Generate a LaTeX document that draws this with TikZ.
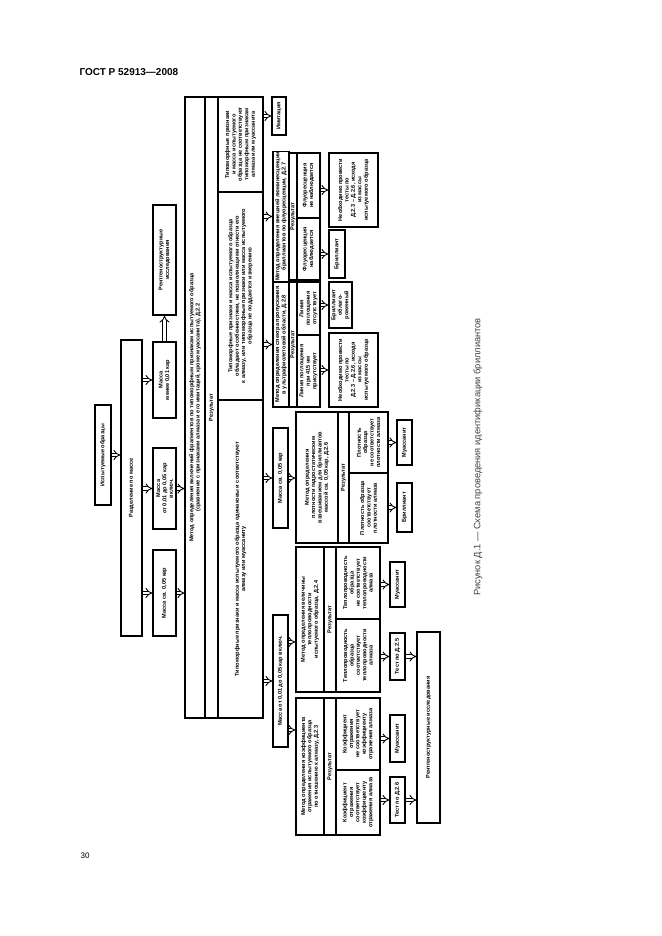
\documentclass[tikz,border=0pt]{standalone}
\usepackage{fontspec}
\setmainfont{Liberation Sans}
\usetikzlibrary{arrows.meta}
\newcommand\boxfont{\bfseries\fontsize{5.6}{6.4}\selectfont}
\tikzset{
  box/.style={draw, line width=1.5pt, rotate=90, inner sep=0.5pt, align=center, font=\boxfont},
  dbl/.style={double, double distance=2.6pt, line width=0.9pt, -{Implies[scale=1.4]}}
}
\begin{document}
\begin{tikzpicture}[x=1pt, y=-1pt]
  \useasboundingbox[fill=white] (0,0) rectangle (661,936);
  \node[anchor=west, font=\bfseries\fontsize{10}{12}\selectfont] (head) at (76,72) {ГОСТ Р 52913—2008};
  \node[font=\fontsize{8}{10}\selectfont] (pnum) at (85,856) {30};
  \node[rotate=90, font=\fontsize{9.3}{11}\selectfont, text=black!75] (cap) at (478,457)
    {Рисунок Д.1 — Схема проведения идентификации бриллиантов};

  \node[box, minimum width=100pt, minimum height=16pt] (samp) at (103,455) {Испытуемые образцы};
  \node[box, minimum width=296pt, minimum height=21pt] (sep) at (131.5,488) {Разделение по массе};
  \node[box, minimum width=76pt, minimum height=23pt] (mlt) at (164.5,380) {Масса\\менее 0,01 кар};
  \node[box, minimum width=81pt, minimum height=23pt] (mmid) at (164.5,488.5) {Масса\\от 0,01 до 0,05 кар\\включ.};
  \node[box, minimum width=86pt, minimum height=23pt] (mbig) at (164.5,593) {Масса св. 0,05 кар};
  \node[box, minimum width=110pt, minimum height=23pt] (xray1) at (164.5,260) {Рентгеноструктурные\\исследования};

  \node[box, minimum width=621pt, minimum height=20pt] (b1) at (195,407.5)
    {Метод определения включений фрагментов по типоморфным признакам испытуемого образца\\
     (сравнение с признаками алмаза и его имитаций, кроме муассанита), Д.2.2};
  \node[box, minimum width=621pt, minimum height=13pt] (b2) at (211.5,407.5) {Результат};
  \node[box, minimum width=95pt, minimum height=45pt] (c1) at (240.5,144.5)
    {Типоморфные признаки\\и масса испытуемого\\образца не соответствуют\\типоморфным признакам\\алмаза или муассанита};
  \node[box, minimum width=208pt, minimum height=45pt] (c2) at (240.5,296)
    {Типоморфные признаки и масса испытуемого образца\\обладают особенностями, не позволяющими отнести его\\к алмазу, или типоморфные признаки или масса испытуемого\\образца не поддаются измерению};
  \node[box, minimum width=318pt, minimum height=45pt] (c3) at (240.5,559)
    {Типоморфные признаки и масса испытуемого образца одинаковы и соответствуют\\алмазу или муассаниту};

  \node[box, minimum width=38pt, minimum height=14pt] (imit) at (279,116) {Имитация};

  \node[box, minimum width=127pt, minimum height=16pt] (d7a) at (281,216.5)
    {Метод определения внешней люминесценции\\бриллиантов по флуоресценции, Д.2.7};
  \node[box, minimum width=127pt, minimum height=8pt] (d7b) at (293,216.5) {Результат};
  \node[box, minimum width=65pt, minimum height=23pt] (d7c) at (308.5,185.5) {Флуоресценция\\не наблюдается};
  \node[box, minimum width=62pt, minimum height=23pt] (d7d) at (308.5,249) {Флуоресценция\\наблюдается};
  \node[box, minimum width=74pt, minimum height=49pt] (tst1) at (353.5,190)
    {Необходимо провести\\тесты по\\Д.2.3 -- Д.2.6, исходя\\из массы\\испытуемого образца};
  \node[box, minimum width=48pt, minimum height=16pt] (brl1) at (337,254) {Бриллиант};

  \node[box, minimum width=125pt, minimum height=16pt] (d8a) at (281,344.5)
    {Метод определения спектра пропускания\\в ультрафиолетовой области, Д.2.8};
  \node[box, minimum width=125pt, minimum height=8pt] (d8b) at (293,344.5) {Результат};
  \node[box, minimum width=53pt, minimum height=23pt] (d8c) at (308.5,308.5) {Линия\\поглощения\\отсутствует};
  \node[box, minimum width=72pt, minimum height=23pt] (d8d) at (308.5,371) {Линия поглощения\\при 415 нм\\присутствует};
  \node[box, minimum width=46pt, minimum height=23pt] (treat) at (340.5,305) {Бриллиант\\облаго-\\роженный};
  \node[box, minimum width=74pt, minimum height=49pt] (tst2) at (353.5,370)
    {Необходимо провести\\тесты по\\Д.2.3 -- Д.2.6, исходя\\из массы\\испытуемого образца};

  \node[box, minimum width=100pt, minimum height=15pt] (mbig2) at (280.5,478) {Масса св. 0,05 кар};
  \node[box, minimum width=131pt, minimum height=42pt] (ca) at (317,477.5)
    {Метод определения\\плотности гидростатическим\\взвешиванием для бриллиантов\\массой св. 0,05 кар, Д.2.6};
  \node[box, minimum width=131pt, minimum height=11pt] (cb) at (343.5,477.5) {Результат};
  \node[box, minimum width=61pt, minimum height=39pt] (cc) at (368.5,442.5) {Плотность\\образца\\не соответствует\\плотности алмаза};
  \node[box, minimum width=70pt, minimum height=39pt] (cd) at (368.5,508) {Плотность образца\\соответствует\\плотности алмаза};
  \node[box, minimum width=45pt, minimum height=15pt] (mua1) at (404.5,442.5) {Муассанит};
  \node[box, minimum width=49pt, minimum height=15pt] (brl2) at (404.5,507.5) {Бриллиант};

  \node[box, minimum width=132pt, minimum height=15pt] (mmid2) at (280.5,681) {Масса от 0,01 до 0,05 кар включ.};
  \node[box, minimum width=145pt, minimum height=28pt] (aa) at (310,619.5)
    {Метод определения величины\\теплопроводности\\испытуемого образца, Д.2.4};
  \node[box, minimum width=145pt, minimum height=12pt] (ab) at (330,619.5) {Результат};
  \node[box, minimum width=72pt, minimum height=44pt] (ac) at (358,583)
    {Теплопроводность\\образца\\не соответствует\\теплопроводности\\алмаза};
  \node[box, minimum width=73pt, minimum height=44pt] (ad) at (358,655.5)
    {Теплопроводность\\образца\\соответствует\\теплопроводности\\алмаза};
  \node[box, minimum width=45pt, minimum height=15pt] (mua2) at (397.5,584.5) {Муассанит};
  \node[box, minimum width=47pt, minimum height=15pt] (t25) at (397.5,656.5) {Тест по Д.2.5};

  \node[box, minimum width=137pt, minimum height=28pt] (ba) at (310,766.5)
    {Метод определения коэффициента\\отражения испытуемого образца\\по отношению к алмазу, Д.2.3};
  \node[box, minimum width=137pt, minimum height=12pt] (bb) at (330,766.5) {Результат};
  \node[box, minimum width=72pt, minimum height=44pt] (bc) at (358,734)
    {Коэффициент\\отражения\\не соответствует\\коэффициенту\\отражения алмаза};
  \node[box, minimum width=65pt, minimum height=44pt] (bd) at (358,802.5)
    {Коэффициент\\отражения\\соответствует\\коэффициенту\\отражения алмаза};
  \node[box, minimum width=47pt, minimum height=15pt] (mua3) at (397.5,738.5) {Муассанит};
  \node[box, minimum width=46pt, minimum height=15pt] (t26) at (397.5,800) {Тест по Д.2.6};
  \node[box, minimum width=191pt, minimum height=23pt] (xray2) at (428.5,727.5) {Рентгеноструктурные исследования};

  \draw[dbl] (samp.south) -- (samp.south -| sep.north);
  \draw[dbl] (sep.south |- mlt) -- (mlt.north);
  \draw[dbl] (sep.south |- mmid) -- (mmid.north);
  \draw[dbl] (sep.south |- mbig) -- (mbig.north);
  \draw[dbl] (mlt.east) -- (xray1.west);
  \draw[dbl] (mmid.south) -- (mmid.south -| b1.north);
  \draw[dbl] (mbig.south) -- (mbig.south -| b1.north);

  \draw[dbl] (c1.south |- imit) -- (imit.north);
  \draw[dbl] (c2.south |- d7a) -- (d7a.north);
  \draw[dbl] (c2.south |- d8a) -- (d8a.north);
  \draw[dbl] (c3.south |- mbig2) -- (mbig2.north);
  \draw[dbl] (c3.south |- mmid2) -- (mmid2.north);

  \draw[dbl] (d7c.south |- tst1) -- (tst1.north);
  \draw[dbl] (d7d.south |- brl1) -- (brl1.north);
  \draw[dbl] (d8c.south |- treat) -- (treat.north);
  \draw[dbl] (d8d.south |- tst2) -- (tst2.north);

  \draw[dbl] (mbig2.south) -- (mbig2.south -| ca.north);
  \draw[dbl] (cc.south |- mua1) -- (mua1.north);
  \draw[dbl] (cd.south |- brl2) -- (brl2.north);

  \draw[dbl] ([yshift=39pt]mmid2.south) -- ([yshift=39pt]mmid2.south -| aa.north);
  \draw[dbl] ([yshift=-49pt]mmid2.south) -- ([yshift=-49pt]mmid2.south -| ba.north);
  \draw[dbl] (ac.south |- mua2) -- (mua2.north);
  \draw[dbl] (ad.south |- t25) -- (t25.north);
  \draw[dbl] (bc.south |- mua3) -- (mua3.north);
  \draw[dbl] (bd.south |- t26) -- (t26.north);
  \draw[dbl] (t25.south) -- (t25.south -| xray2.north);
  \draw[dbl] (t26.south) -- (t26.south -| xray2.north);
\end{tikzpicture}
\end{document}
